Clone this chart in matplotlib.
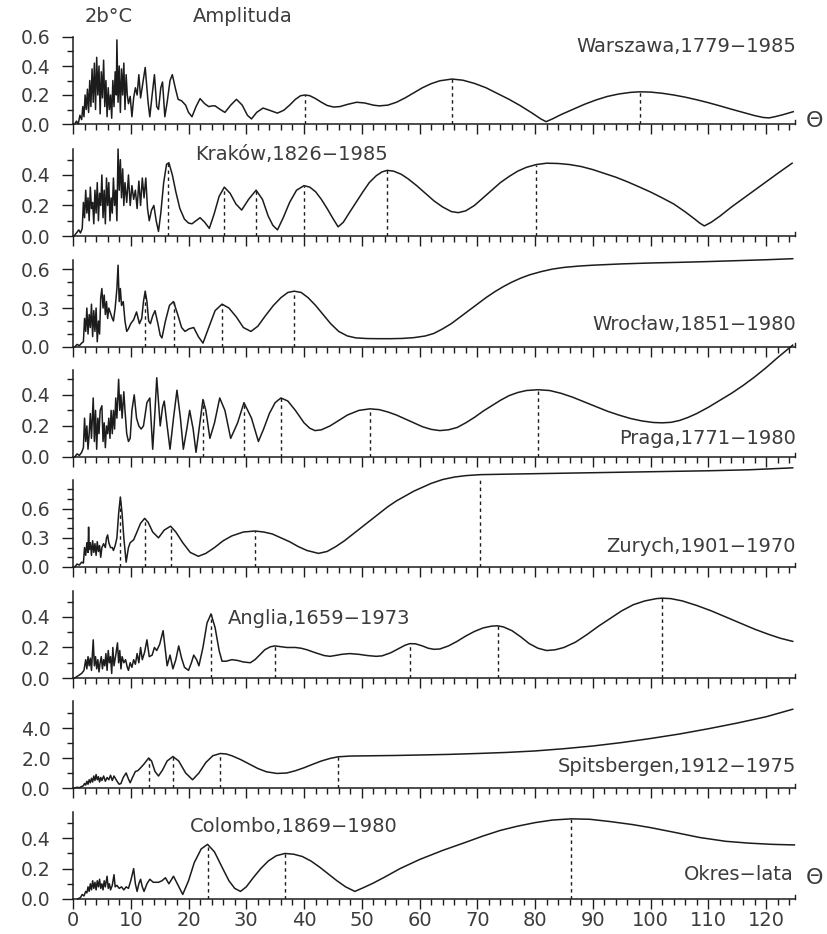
import numpy as np
import matplotlib
matplotlib.use("Agg")
import matplotlib.pyplot as plt
from matplotlib.ticker import MultipleLocator

# ---- data: (period in years, amplitude) ----
warszawa = [(0.3, 0.0), (0.6, 0.02), (0.9, 0.0), (1.2, 0.06), (1.5, 0.03), (1.7, 0.12), (1.9, 0.05),
            (2.1, 0.2), (2.3, 0.1), (2.5, 0.24), (2.7, 0.08), (2.9, 0.3), (3.1, 0.12), (3.3, 0.38),
            (3.5, 0.15), (3.7, 0.42), (3.9, 0.1), (4.1, 0.46), (4.3, 0.2), (4.5, 0.4), (4.7, 0.07),
            (4.9, 0.36), (5.1, 0.18), (5.3, 0.44), (5.5, 0.12), (5.7, 0.3), (5.9, 0.05), (6.1, 0.25),
            (6.3, 0.1), (6.5, 0.2), (6.7, 0.04), (6.9, 0.3), (7.1, 0.12), (7.3, 0.36), (7.5, 0.2),
            (7.6, 0.58), (7.8, 0.15), (8.0, 0.4), (8.2, 0.08), (8.4, 0.38), (8.6, 0.2), (8.8, 0.42),
            (9.0, 0.1), (9.2, 0.34), (9.4, 0.2), (9.6, 0.14), (9.9, 0.19), (10.2, 0.05), (10.5, 0.18),
            (10.8, 0.25), (11.1, 0.2), (11.4, 0.34), (11.7, 0.18), (12.0, 0.26), (12.5, 0.39),
            (13.0, 0.15), (13.3, 0.05), (13.7, 0.2), (14.1, 0.34), (14.5, 0.12), (14.8, 0.1),
            (15.2, 0.25), (15.5, 0.29), (15.9, 0.05), (16.3, 0.15), (16.8, 0.3), (17.2, 0.34),
            (17.7, 0.25), (18.2, 0.17), (18.8, 0.16), (19.5, 0.13), (20.0, 0.08), (20.6, 0.05),
            (21.3, 0.12), (22.0, 0.175), (22.8, 0.14), (23.5, 0.12), (24.1, 0.125), (24.6, 0.125),
            (25.5, 0.1), (26.3, 0.08), (27.3, 0.13), (28.3, 0.17), (29.3, 0.13), (30.2, 0.06),
            (30.9, 0.035), (31.8, 0.08), (32.9, 0.11), (34.0, 0.095), (35.4, 0.075), (36.5, 0.095),
            (37.5, 0.13), (38.5, 0.17), (39.4, 0.195), (40.2, 0.2), (41.0, 0.195), (42.0, 0.175),
            (43.0, 0.15), (44.0, 0.128), (45.1, 0.117), (46.2, 0.12), (47.5, 0.135), (49.1, 0.15),
            (50.5, 0.145), (52.0, 0.13), (53.0, 0.125), (54.5, 0.13), (56.0, 0.15), (57.5, 0.18),
            (59.0, 0.215), (60.5, 0.25), (62.0, 0.278), (63.5, 0.298), (65.6, 0.31), (67.5, 0.302),
            (69.5, 0.28), (71.5, 0.25), (73.5, 0.21), (75.5, 0.17), (77.5, 0.125), (79.5, 0.075),
            (81.0, 0.035), (81.9, 0.016), (83.0, 0.035), (84.5, 0.065), (86.5, 0.1), (88.5, 0.135),
            (90.5, 0.165), (92.5, 0.19), (94.5, 0.207), (96.5, 0.218), (98.1, 0.222), (100.0, 0.22),
            (102.0, 0.212), (104.0, 0.2), (106.0, 0.185), (108.0, 0.167), (110.0, 0.147),
            (112.0, 0.125), (114.0, 0.102), (116.0, 0.08), (118.0, 0.058), (119.5, 0.045),
            (120.5, 0.042), (121.5, 0.05), (123.0, 0.065), (124.7, 0.085)]
warszawa_peaks = [40.2, 65.6, 98.1]

krakow = [(0.2, 0.0), (0.6, 0.02), (1.0, 0.04), (1.3, 0.02), (1.6, 0.05), (1.8, 0.22), (2.0, 0.12),
          (2.2, 0.3), (2.4, 0.15), (2.6, 0.25), (2.8, 0.1), (3.0, 0.32), (3.2, 0.18), (3.4, 0.22),
          (3.6, 0.08), (3.8, 0.3), (4.0, 0.15), (4.2, 0.35), (4.4, 0.1), (4.6, 0.28), (4.8, 0.2),
          (5.0, 0.4), (5.2, 0.12), (5.4, 0.3), (5.6, 0.08), (5.8, 0.38), (6.0, 0.2), (6.2, 0.35),
          (6.4, 0.1), (6.6, 0.25), (6.8, 0.15), (7.0, 0.38), (7.2, 0.2), (7.4, 0.3), (7.6, 0.1),
          (7.8, 0.57), (8.0, 0.3), (8.2, 0.5), (8.4, 0.25), (8.6, 0.44), (8.8, 0.2), (9.0, 0.35),
          (9.3, 0.22), (9.6, 0.4), (9.9, 0.2), (10.2, 0.33), (10.5, 0.24), (10.8, 0.3), (11.1, 0.18),
          (11.4, 0.36), (11.7, 0.2), (12.0, 0.38), (12.3, 0.25), (12.6, 0.38), (12.9, 0.18),
          (13.2, 0.1), (13.6, 0.17), (14.0, 0.2), (14.4, 0.1), (14.8, 0.03), (15.2, 0.15),
          (15.7, 0.35), (16.2, 0.47), (16.6, 0.48), (17.2, 0.4), (17.8, 0.29), (18.5, 0.18),
          (19.3, 0.11), (20.0, 0.085), (20.6, 0.08), (21.3, 0.1), (22.0, 0.12), (22.8, 0.09),
          (23.6, 0.05), (24.4, 0.14), (25.3, 0.26), (26.2, 0.32), (27.2, 0.28), (28.2, 0.21),
          (29.2, 0.17), (30.4, 0.24), (31.7, 0.3), (32.8, 0.24), (33.8, 0.13), (34.6, 0.07),
          (35.4, 0.04), (36.4, 0.12), (37.5, 0.22), (38.7, 0.3), (40.0, 0.33), (41.0, 0.32),
          (42.0, 0.29), (43.0, 0.24), (44.0, 0.18), (45.0, 0.115), (45.9, 0.06), (46.8, 0.09),
          (47.8, 0.15), (49.0, 0.22), (50.2, 0.29), (51.3, 0.35), (52.5, 0.395), (53.5, 0.42),
          (54.4, 0.43), (55.5, 0.425), (56.8, 0.405), (58.0, 0.375), (59.5, 0.33), (61.0, 0.28),
          (62.5, 0.23), (64.0, 0.19), (65.5, 0.16), (66.7, 0.153), (68.0, 0.165), (69.5, 0.2),
          (71.0, 0.25), (72.5, 0.3), (74.0, 0.35), (75.5, 0.39), (77.0, 0.425), (78.5, 0.45),
          (80.2, 0.468), (82.0, 0.477), (84.0, 0.475), (86.0, 0.468), (88.0, 0.455), (90.0, 0.435),
          (92.0, 0.41), (94.0, 0.385), (96.0, 0.355), (98.0, 0.322), (100.0, 0.288), (102.0, 0.25),
          (104.0, 0.21), (106.0, 0.158), (107.5, 0.115), (108.5, 0.085), (109.3, 0.066),
          (110.5, 0.09), (112.0, 0.13), (114.0, 0.19), (116.0, 0.245), (118.0, 0.3), (120.0, 0.355),
          (122.0, 0.41), (124.5, 0.477)]
krakow_peaks = [16.5, 26.2, 31.7, 40.0, 54.4, 80.2]

wroclaw = [(0.3, 0.0), (0.7, 0.02), (1.1, 0.01), (1.5, 0.03), (1.8, 0.04), (2.0, 0.22), (2.2, 0.12),
           (2.4, 0.3), (2.6, 0.1), (2.8, 0.25), (3.0, 0.15), (3.2, 0.33), (3.4, 0.08), (3.6, 0.28),
           (3.8, 0.12), (4.0, 0.3), (4.2, 0.04), (4.4, 0.2), (4.6, 0.1), (4.8, 0.38), (5.0, 0.45),
           (5.2, 0.3), (5.4, 0.4), (5.6, 0.25), (5.8, 0.35), (6.0, 0.22), (6.2, 0.3), (6.5, 0.26),
           (6.8, 0.22), (7.0, 0.2), (7.3, 0.3), (7.6, 0.45), (7.8, 0.63), (8.0, 0.35), (8.2, 0.45),
           (8.4, 0.32), (8.7, 0.35), (9.0, 0.2), (9.3, 0.12), (9.6, 0.14), (10.0, 0.18), (10.5, 0.21),
           (11.0, 0.27), (11.5, 0.18), (11.9, 0.22), (12.2, 0.35), (12.5, 0.43), (12.8, 0.35),
           (13.1, 0.2), (13.4, 0.18), (13.8, 0.24), (14.2, 0.28), (14.7, 0.18), (15.1, 0.09),
           (15.4, 0.07), (16.0, 0.2), (16.7, 0.32), (17.4, 0.35), (18.2, 0.24), (18.8, 0.15),
           (19.4, 0.12), (20.1, 0.14), (20.9, 0.15), (21.7, 0.08), (22.5, 0.03), (23.5, 0.15),
           (24.6, 0.28), (25.8, 0.33), (27.0, 0.3), (28.3, 0.23), (29.5, 0.15), (30.8, 0.12),
           (32.0, 0.16), (33.3, 0.24), (34.7, 0.32), (36.0, 0.38), (37.2, 0.42), (38.3, 0.43),
           (39.5, 0.42), (40.7, 0.38), (42.0, 0.32), (43.3, 0.25), (44.6, 0.18), (46.0, 0.12),
           (47.5, 0.085), (49.0, 0.07), (51.0, 0.065), (53.0, 0.064), (55.0, 0.064), (57.0, 0.066),
           (59.0, 0.072), (61.0, 0.085), (62.5, 0.105), (64.0, 0.14), (65.5, 0.18), (67.0, 0.23),
           (68.5, 0.28), (70.0, 0.33), (71.5, 0.38), (73.0, 0.425), (74.5, 0.465), (76.0, 0.5),
           (77.5, 0.53), (79.0, 0.555), (81.0, 0.58), (83.0, 0.6), (85.0, 0.613), (87.5, 0.623),
           (90.0, 0.63), (95.0, 0.64), (100.0, 0.647), (105.0, 0.652), (110.0, 0.658),
           (115.0, 0.665), (120.0, 0.672), (124.6, 0.68)]
wroclaw_peaks = [12.5, 17.4, 25.8, 38.3]

praga = [(0.3, 0.0), (0.7, 0.02), (1.1, 0.01), (1.5, 0.03), (1.8, 0.06), (2.0, 0.25), (2.2, 0.1),
         (2.4, 0.2), (2.6, 0.05), (2.8, 0.15), (3.0, 0.28), (3.2, 0.12), (3.5, 0.38), (3.7, 0.1),
         (3.9, 0.3), (4.1, 0.05), (4.3, 0.25), (4.5, 0.15), (4.7, 0.3), (5.0, 0.33), (5.2, 0.1),
         (5.4, 0.22), (5.6, 0.06), (5.8, 0.2), (6.0, 0.15), (6.2, 0.25), (6.4, 0.12), (6.6, 0.3),
         (6.8, 0.15), (7.0, 0.3), (7.2, 0.18), (7.4, 0.38), (7.6, 0.25), (7.9, 0.5), (8.1, 0.3),
         (8.3, 0.4), (8.5, 0.25), (8.8, 0.42), (9.0, 0.3), (9.3, 0.15), (9.6, 0.1), (9.9, 0.12),
         (10.2, 0.3), (10.6, 0.4), (11.0, 0.25), (11.4, 0.2), (11.8, 0.18), (12.2, 0.2),
         (12.8, 0.35), (13.3, 0.38), (13.8, 0.05), (14.2, 0.3), (14.5, 0.51), (14.8, 0.35),
         (15.1, 0.2), (15.5, 0.32), (15.8, 0.36), (16.3, 0.2), (16.8, 0.05), (17.4, 0.25),
         (18.0, 0.43), (18.6, 0.25), (19.1, 0.05), (19.7, 0.18), (20.2, 0.3), (20.8, 0.18),
         (21.3, 0.03), (21.9, 0.2), (22.5, 0.37), (23.0, 0.3), (23.7, 0.12), (24.5, 0.22),
         (25.4, 0.38), (26.3, 0.3), (27.3, 0.12), (28.5, 0.22), (29.6, 0.35), (30.9, 0.25),
         (32.1, 0.1), (33.0, 0.18), (34.0, 0.28), (35.0, 0.35), (36.0, 0.38), (37.2, 0.36),
         (38.5, 0.3), (40.0, 0.22), (41.0, 0.185), (41.9, 0.17), (43.0, 0.175), (44.5, 0.2),
         (46.0, 0.235), (47.5, 0.27), (49.5, 0.3), (51.4, 0.31), (53.0, 0.305), (54.5, 0.29),
         (56.0, 0.27), (57.5, 0.245), (59.0, 0.22), (60.5, 0.195), (62.0, 0.178), (63.5, 0.17),
         (65.0, 0.175), (66.5, 0.19), (68.0, 0.22), (69.5, 0.255), (71.0, 0.295), (72.5, 0.33),
         (74.0, 0.365), (75.5, 0.395), (77.0, 0.415), (78.5, 0.428), (80.5, 0.433), (82.5, 0.428),
         (84.5, 0.41), (86.5, 0.385), (88.5, 0.355), (90.5, 0.325), (92.5, 0.295), (94.5, 0.27),
         (96.5, 0.248), (98.5, 0.232), (100.5, 0.222), (102.0, 0.22), (103.5, 0.223),
         (105.0, 0.235), (106.5, 0.255), (108.0, 0.28), (110.0, 0.32), (112.0, 0.365),
         (114.0, 0.41), (116.0, 0.46), (118.0, 0.515), (120.0, 0.575), (122.0, 0.64),
         (124.6, 0.72)]
praga_peaks = [22.5, 29.6, 36.0, 51.4, 80.5]

zurych = [(0.3, 0.0), (0.7, 0.03), (1.1, 0.02), (1.5, 0.05), (1.8, 0.04), (2.0, 0.2), (2.2, 0.12),
          (2.4, 0.25), (2.6, 0.15), (2.7, 0.41), (2.8, 0.18), (3.0, 0.25), (3.2, 0.12), (3.4, 0.27),
          (3.6, 0.15), (3.8, 0.24), (4.0, 0.12), (4.2, 0.26), (4.4, 0.16), (4.6, 0.22), (4.8, 0.1),
          (5.0, 0.2), (5.3, 0.24), (5.6, 0.2), (5.8, 0.3), (6.0, 0.33), (6.2, 0.25), (6.5, 0.2),
          (6.8, 0.2), (7.0, 0.17), (7.3, 0.22), (7.6, 0.3), (7.9, 0.55), (8.2, 0.72), (8.5, 0.55),
          (8.8, 0.3), (9.2, 0.05), (9.6, 0.2), (9.9, 0.25), (10.5, 0.28), (11.0, 0.35), (11.7, 0.45),
          (12.4, 0.5), (13.0, 0.46), (13.8, 0.36), (14.8, 0.3), (15.8, 0.38), (16.9, 0.42),
          (17.8, 0.36), (19.0, 0.25), (20.3, 0.15), (21.7, 0.11), (23.0, 0.14), (24.5, 0.2),
          (26.0, 0.27), (27.5, 0.32), (29.5, 0.36), (31.5, 0.37), (33.0, 0.36), (34.5, 0.34),
          (36.0, 0.3), (37.5, 0.26), (39.0, 0.21), (40.5, 0.17), (42.5, 0.14), (44.0, 0.16),
          (45.5, 0.21), (47.0, 0.27), (48.5, 0.34), (50.0, 0.41), (51.5, 0.48), (53.0, 0.55),
          (54.5, 0.62), (56.0, 0.68), (57.5, 0.73), (59.0, 0.78), (60.5, 0.82), (62.0, 0.86),
          (64.0, 0.9), (66.0, 0.925), (68.0, 0.94), (70.5, 0.95), (75.0, 0.955), (80.0, 0.96),
          (90.0, 0.97), (100.0, 0.98), (110.0, 0.99), (117.0, 1.0), (124.6, 1.02)]
zurych_peaks = [8.2, 12.4, 16.9, 31.5, 70.5]

anglia = [(0.3, 0.0), (0.7, 0.01), (1.1, 0.02), (1.5, 0.03), (1.9, 0.05), (2.2, 0.12), (2.4, 0.06),
          (2.6, 0.14), (2.8, 0.08), (3.0, 0.13), (3.2, 0.05), (3.5, 0.25), (3.7, 0.08), (3.9, 0.14),
          (4.1, 0.06), (4.3, 0.12), (4.5, 0.04), (4.7, 0.1), (4.9, 0.14), (5.1, 0.06), (5.3, 0.12),
          (5.5, 0.08), (5.7, 0.16), (5.9, 0.05), (6.1, 0.18), (6.3, 0.1), (6.5, 0.14), (6.7, 0.03),
          (6.9, 0.2), (7.1, 0.08), (7.4, 0.15), (7.7, 0.23), (7.9, 0.1), (8.1, 0.18), (8.3, 0.06),
          (8.5, 0.14), (8.8, 0.1), (9.1, 0.12), (9.4, 0.07), (9.6, 0.05), (9.9, 0.1), (10.2, 0.07),
          (10.5, 0.12), (10.8, 0.09), (11.1, 0.16), (11.4, 0.1), (11.7, 0.2), (12.0, 0.12),
          (12.4, 0.17), (12.8, 0.25), (13.2, 0.14), (13.7, 0.15), (14.1, 0.2), (14.5, 0.18),
          (15.0, 0.22), (15.6, 0.31), (16.0, 0.18), (16.3, 0.08), (16.8, 0.15), (17.3, 0.06),
          (17.8, 0.12), (18.3, 0.21), (18.8, 0.13), (19.3, 0.07), (20.0, 0.05), (20.5, 0.1),
          (20.9, 0.15), (21.4, 0.12), (21.8, 0.08), (22.5, 0.2), (23.2, 0.36), (23.9, 0.42),
          (24.6, 0.33), (25.3, 0.18), (25.8, 0.11), (26.5, 0.11), (27.5, 0.12), (28.5, 0.115),
          (29.5, 0.105), (30.7, 0.1), (31.5, 0.12), (32.3, 0.15), (33.2, 0.185), (34.2, 0.205),
          (35.0, 0.21), (36.0, 0.205), (37.0, 0.2), (38.5, 0.2), (39.5, 0.195), (40.5, 0.185),
          (42.0, 0.165), (43.5, 0.147), (44.5, 0.142), (45.5, 0.148), (46.5, 0.155), (47.9, 0.16),
          (49.5, 0.155), (51.0, 0.147), (52.5, 0.142), (53.5, 0.145), (55.0, 0.165), (56.5, 0.195),
          (57.5, 0.215), (58.3, 0.225), (59.3, 0.224), (60.5, 0.21), (61.5, 0.195), (62.5, 0.188),
          (63.5, 0.19), (65.0, 0.21), (66.5, 0.24), (68.0, 0.275), (69.5, 0.305), (71.0, 0.328),
          (72.5, 0.34), (73.5, 0.342), (74.5, 0.335), (76.0, 0.31), (77.5, 0.27), (79.0, 0.225),
          (80.5, 0.195), (82.0, 0.18), (83.5, 0.185), (85.0, 0.2), (87.0, 0.235), (89.0, 0.285),
          (91.0, 0.34), (93.0, 0.39), (95.0, 0.44), (97.0, 0.48), (99.0, 0.505), (101.0, 0.52),
          (102.0, 0.523), (103.5, 0.52), (105.5, 0.505), (108.0, 0.475), (110.5, 0.44),
          (113.0, 0.4), (115.5, 0.36), (118.0, 0.32), (120.5, 0.285), (122.5, 0.26), (124.6, 0.24)]
anglia_peaks = [23.9, 35.0, 58.3, 73.5, 102.0]

spitsbergen = [(0.3, 0.0), (0.7, 0.05), (1.1, 0.02), (1.5, 0.1), (1.8, 0.15), (2.0, 0.3), (2.2, 0.2),
               (2.4, 0.45), (2.6, 0.25), (2.8, 0.55), (3.0, 0.35), (3.2, 0.65), (3.4, 0.4), (3.6, 0.8),
               (3.8, 0.5), (4.0, 0.9), (4.2, 0.55), (4.4, 0.75), (4.6, 0.4), (4.8, 0.7), (5.0, 0.5),
               (5.3, 0.8), (5.6, 0.45), (5.9, 0.7), (6.2, 0.55), (6.5, 0.85), (6.8, 0.5), (7.1, 0.8),
               (7.4, 0.6), (7.7, 0.4), (8.0, 0.25), (8.3, 0.3), (8.7, 0.7), (9.2, 1.0), (9.6, 0.6),
               (9.9, 0.35), (10.3, 0.7), (10.8, 1.1), (11.2, 1.15), (11.6, 1.3), (12.3, 1.6),
               (13.1, 2.0), (13.6, 1.8), (14.2, 1.1), (14.8, 0.8), (15.5, 1.2), (16.3, 1.8),
               (17.3, 2.1), (18.3, 1.8), (19.5, 1.0), (20.7, 0.55), (21.8, 1.0), (23.0, 1.7),
               (24.2, 2.15), (25.5, 2.3), (26.5, 2.27), (27.5, 2.15), (29.0, 1.9), (30.5, 1.6),
               (32.0, 1.3), (33.5, 1.08), (35.3, 0.97), (37.0, 1.0), (38.5, 1.15), (40.0, 1.35),
               (41.5, 1.58), (43.0, 1.8), (44.5, 1.97), (45.9, 2.08), (48.0, 2.13), (52.0, 2.15),
               (56.0, 2.17), (60.0, 2.2), (65.0, 2.24), (70.0, 2.3), (75.0, 2.37), (80.0, 2.47),
               (85.0, 2.62), (90.0, 2.8), (95.0, 3.03), (100.0, 3.3), (105.0, 3.6), (110.0, 3.95),
               (115.0, 4.33), (120.0, 4.75), (124.6, 5.25)]
spitsbergen_peaks = [13.1, 17.3, 25.5, 45.9]

colombo = [(0.8, 0.0), (1.3, 0.01), (1.6, 0.03), (1.9, 0.02), (2.2, 0.05), (2.4, 0.04), (2.6, 0.08),
           (2.8, 0.05), (3.0, 0.1), (3.2, 0.06), (3.4, 0.12), (3.6, 0.07), (3.8, 0.11), (4.0, 0.06),
           (4.2, 0.12), (4.4, 0.08), (4.6, 0.13), (4.8, 0.07), (5.0, 0.1), (5.2, 0.06), (5.4, 0.12),
           (5.6, 0.08), (5.9, 0.15), (6.1, 0.07), (6.3, 0.1), (6.5, 0.06), (6.8, 0.09), (7.1, 0.16),
           (7.3, 0.08), (7.6, 0.09), (8.0, 0.07), (8.4, 0.08), (8.8, 0.06), (9.2, 0.08), (9.6, 0.07),
           (10.0, 0.12), (10.5, 0.2), (10.8, 0.1), (11.1, 0.05), (11.4, 0.1), (11.7, 0.13),
           (12.0, 0.08), (12.3, 0.05), (12.8, 0.1), (13.3, 0.13), (13.9, 0.11), (14.8, 0.11),
           (15.4, 0.12), (16.0, 0.14), (16.6, 0.1), (17.4, 0.15), (18.2, 0.09), (19.0, 0.03),
           (20.0, 0.12), (21.0, 0.24), (22.2, 0.33), (23.3, 0.36), (24.5, 0.31), (25.8, 0.21),
           (27.0, 0.12), (28.0, 0.07), (29.0, 0.05), (30.0, 0.08), (31.2, 0.14), (32.5, 0.2),
           (33.8, 0.25), (35.2, 0.285), (36.7, 0.3), (38.2, 0.295), (39.7, 0.28), (41.2, 0.25),
           (42.7, 0.21), (44.2, 0.165), (45.7, 0.12), (47.2, 0.08), (48.8, 0.05), (50.3, 0.075),
           (52.0, 0.105), (54.0, 0.145), (56.6, 0.2), (60.0, 0.26), (64.0, 0.32), (68.1, 0.375),
           (71.0, 0.415), (74.0, 0.452), (77.0, 0.48), (80.0, 0.503), (83.0, 0.52), (86.3, 0.528),
           (89.5, 0.525), (93.0, 0.51), (96.9, 0.49), (100.0, 0.47), (104.0, 0.44), (108.5, 0.405),
           (113.0, 0.38), (117.0, 0.368), (121.0, 0.36), (124.9, 0.356)]
colombo_peaks = [23.3, 36.7, 86.3]

labels = ["Warszawa,1779\u22121985", "Kraków,1826\u22121985", "Wrocław,1851\u22121980",
          "Praga,1771\u22121980", "Zurych,1901\u22121970", "Anglia,1659\u22121973",
          "Spitsbergen,1912\u22121975", "Colombo,1869\u22121980"]
x_ticks = list(range(0, 130, 10))

panels = [
    (warszawa, warszawa_peaks),
    (krakow, krakow_peaks),
    (wroclaw, wroclaw_peaks),
    (praga, praga_peaks),
    (zurych, zurych_peaks),
    (anglia, anglia_peaks),
    (spitsbergen, spitsbergen_peaks),
    (colombo, colombo_peaks),
]

# ---- layout (pixel based, figure is 828 x 934) ----
W, H = 828, 934
zero_px = [124, 236, 347, 457, 567, 678, 788, 899]   # y pixel of each panel's zero line
ax_h_px = 87
ax_left_px, ax_right_px = 73, 795
ylims = [0.6, 0.57, 0.67, 0.56, 0.895, 0.57, 5.8, 0.573]
major_steps = [0.2, 0.2, 0.3, 0.2, 0.3, 0.2, 2.0, 0.2]
minor_steps = [0.1, 0.1, 0.1, 0.1, 0.1, 0.1, 1.0, 0.1]
# label anchor: (x px, y px, ha)
label_pos = [(796, 47, 'right'), (195, 155, 'left'), (796, 324, 'right'), (796, 438, 'right'),
             (796, 546, 'right'), (228, 618, 'left'), (796, 766, 'right'), (190, 827, 'left')]

ink = '#1c1c1c'
txt = '#3c3c3c'
fs = 14

fig = plt.figure(figsize=(W / 100, H / 100), dpi=100)

def fx(px):
    return px / W

def fy(py):
    return 1 - py / H

for i, (pts, peaks) in enumerate(panels):
    xs = [p[0] for p in pts]
    ys = [p[1] for p in pts]
    ax = fig.add_axes([fx(ax_left_px), fy(zero_px[i]), fx(ax_right_px - ax_left_px), ax_h_px / H])
    ax.plot(xs, ys, color=ink, lw=1.1, clip_on=False, solid_joinstyle='round')
    for p in peaks:
        ax.plot([p, p], [0, np.interp(p, xs, ys)], color=ink, lw=1.0,
                linestyle=(0, (2.5, 2.5)))
    ax.set_xlim(0, 125)
    ax.set_ylim(0, ylims[i])
    ax.patch.set_visible(False)
    for s in ('top', 'right'):
        ax.spines[s].set_visible(False)
    for s in ('left', 'bottom'):
        ax.spines[s].set_color(ink)
        ax.spines[s].set_linewidth(1.1)
    ax.xaxis.set_major_locator(MultipleLocator(10))
    ax.xaxis.set_minor_locator(MultipleLocator(2))
    ax.yaxis.set_major_locator(MultipleLocator(major_steps[i]))
    ax.yaxis.set_minor_locator(MultipleLocator(minor_steps[i]))
    ax.tick_params(axis='x', which='major', direction='out', length=7, width=1.0, color=ink,
                   labelsize=fs, labelcolor=txt, pad=2)
    ax.tick_params(axis='x', which='minor', direction='out', length=4.5, width=1.0, color=ink)
    ax.tick_params(axis='y', which='major', direction='out', length=8, width=1.0, color=ink,
                   labelsize=13.5, labelcolor=txt, pad=8)
    ax.tick_params(axis='y', which='minor', direction='out', length=4.5, width=1.0, color=ink)
    ax.yaxis.set_major_formatter(plt.FuncFormatter(lambda v, pos: f"{v:.1f}"))
    if i == len(panels) - 1:
        ax.set_xticks(x_ticks)
    else:
        ax.tick_params(axis='x', labelbottom=False)
    # small closing tick at the right end of each time axis
    ax.plot([125, 125], [0, ylims[i] * 0.05], color=ink, lw=1.0, clip_on=False)
    lx, ly, ha = label_pos[i]
    fig.text(fx(lx), fy(ly), labels[i], ha=ha, va='center', fontsize=fs, color=txt)

fig.text(fx(85), fy(17), "2b\u00b0C", ha='left', va='center', fontsize=fs, color=txt)
fig.text(fx(193), fy(17), "Amplituda", ha='left', va='center', fontsize=fs, color=txt)
fig.text(fx(794), fy(875), "Okres\u2212lata", ha='right', va='center', fontsize=fs, color=txt)
fig.text(fx(815), fy(121), "\u0398", ha='center', va='center', fontsize=16, color=txt)
fig.text(fx(815), fy(878), "\u0398", ha='center', va='center', fontsize=16, color=txt)

fig.savefig("out.png", dpi=100, facecolor='white')
